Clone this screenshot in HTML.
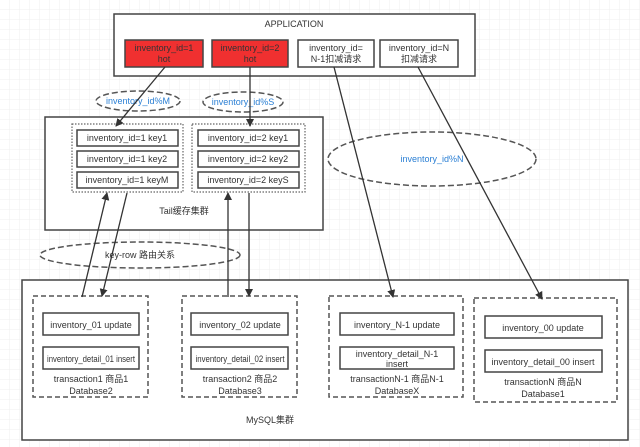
<!DOCTYPE html>
<html><head><meta charset="utf-8"><style>
html,body{margin:0;padding:0;background:#fff}
svg{display:block}
text{font-family:"Liberation Sans","Noto Sans CJK SC",sans-serif;font-size:9px;fill:#333}
</style></head><body>
<svg width="640" height="447" viewBox="0 0 640 447">
<defs>
<pattern id="g" width="10" height="10" patternUnits="userSpaceOnUse"><path d="M10 0V10H0" fill="none" stroke="#efefef" stroke-width="1"/></pattern>
<marker id="a" markerWidth="8" markerHeight="8" refX="7" refY="4" orient="auto" markerUnits="userSpaceOnUse"><path d="M0 0L8 4L0 8z" fill="#333"/></marker>
</defs>
<rect width="640" height="447" fill="url(#g)"/>
<g fill="#fff" stroke="#444" stroke-width="1.5">
<rect x="114" y="14" width="361" height="62"/>
<rect x="45" y="117" width="278" height="113"/>
<rect x="22" y="280" width="606" height="160"/>
</g>
<rect x="125" y="40" width="78" height="27" fill="#f03030" stroke="#444" stroke-width="1.5"/>
<rect x="212" y="40" width="76" height="27" fill="#f03030" stroke="#444" stroke-width="1.5"/>
<rect x="298" y="40" width="76" height="27" fill="#fff" stroke="#444" stroke-width="1.5"/>
<rect x="380" y="40" width="78" height="27" fill="#fff" stroke="#444" stroke-width="1.5"/>
<text x="294" y="27" text-anchor="middle">APPLICATION</text>
<g text-anchor="middle">
<text x="164" y="51">inventory_id=1</text><text x="164" y="62">hot</text>
<text x="250" y="51">inventory_id=2</text><text x="250" y="62">hot</text>
<text x="336" y="51">inventory_id=</text><text x="336" y="62">N-1扣减请求</text>
<text x="419" y="51">inventory_id=N</text><text x="419" y="62">扣减请求</text>
</g>
<g fill="#fff" stroke="#555" stroke-width="1.5" stroke-dasharray="6,3">
<ellipse cx="138" cy="101" rx="42" ry="10"/>
<ellipse cx="243" cy="102" rx="40" ry="10"/>
<ellipse cx="432" cy="159" rx="104" ry="27"/>
<ellipse cx="140" cy="255" rx="100" ry="13"/>
</g>
<text x="138" y="104" text-anchor="middle" style="fill:#2a7fd4">inventory_id%M</text>
<text x="243" y="105" text-anchor="middle" style="fill:#2a7fd4">inventory_id%S</text>
<text x="432" y="162" text-anchor="middle" style="fill:#2a7fd4">inventory_id%N</text>
<text x="140" y="258" text-anchor="middle">key-row 路由关系</text>
<g fill="none" stroke="#666" stroke-width="1.2" stroke-dasharray="1.5,1.5">
<rect x="72" y="124" width="111" height="68"/>
<rect x="192" y="124" width="113" height="68"/>
</g>
<g fill="#fff" stroke="#444" stroke-width="1.5">
<rect x="77" y="130" width="101" height="16"/><rect x="77" y="151" width="101" height="16"/><rect x="77" y="172" width="101" height="16"/>
<rect x="198" y="130" width="101" height="16"/><rect x="198" y="151" width="101" height="16"/><rect x="198" y="172" width="101" height="16"/>
</g>
<g text-anchor="middle">
<text x="127" y="141">inventory_id=1 key1</text><text x="127" y="162">inventory_id=1 key2</text><text x="127" y="183">inventory_id=1 keyM</text>
<text x="248" y="141">inventory_id=2 key1</text><text x="248" y="162">inventory_id=2 key2</text><text x="248" y="183">inventory_id=2 keyS</text>
<text x="184" y="214">Tail缓存集群</text>
<text x="270" y="423">MySQL集群</text>
</g>
<g fill="none" stroke="#555" stroke-width="1.5" stroke-dasharray="5,3">
<rect x="33" y="296" width="115" height="101"/>
<rect x="182" y="296" width="115" height="101"/>
<rect x="329" y="296" width="134" height="101"/>
<rect x="474" y="298" width="143" height="104"/>
</g>
<g fill="#fff" stroke="#444" stroke-width="1.5">
<rect x="43" y="313" width="96" height="22"/><rect x="43" y="347" width="96" height="22"/>
<rect x="191" y="313" width="97" height="22"/><rect x="191" y="347" width="97" height="22"/>
<rect x="340" y="313" width="114" height="22"/><rect x="340" y="347" width="114" height="22"/>
<rect x="485" y="316" width="117" height="22"/><rect x="485" y="350" width="117" height="22"/>
</g>
<g text-anchor="middle">
<text x="91" y="328">inventory_01 update</text><text x="91" y="362" textLength="88" lengthAdjust="spacingAndGlyphs">inventory_detail_01 insert</text>
<text x="91" y="382">transaction1 商品1</text><text x="91" y="394">Database2</text>
<text x="240" y="328">inventory_02 update</text><text x="240" y="362" textLength="89" lengthAdjust="spacingAndGlyphs">inventory_detail_02 insert</text>
<text x="240" y="382">transaction2 商品2</text><text x="240" y="394">Database3</text>
<text x="397" y="328">inventory_N-1 update</text><text x="397" y="357">inventory_detail_N-1</text><text x="397" y="367">insert</text>
<text x="397" y="382">transactionN-1 商品N-1</text><text x="397" y="394">DatabaseX</text>
<text x="543" y="331">inventory_00 update</text><text x="543" y="365" textLength="103" lengthAdjust="spacingAndGlyphs">inventory_detail_00 insert</text>
<text x="543" y="385">transactionN 商品N</text><text x="543" y="397">Database1</text>
</g>
<g stroke="#333" stroke-width="1.3" fill="none" marker-end="url(#a)">
<line x1="165" y1="67" x2="116" y2="126"/>
<line x1="250" y1="67" x2="250" y2="126"/>
<line x1="334" y1="67" x2="393" y2="297"/>
<line x1="418" y1="67" x2="542" y2="299"/>
<line x1="82" y1="297" x2="107" y2="193"/>
<line x1="127" y1="193" x2="102" y2="296"/>
<line x1="228" y1="297" x2="228" y2="193"/>
<line x1="249" y1="193" x2="249" y2="296"/>
</g>
</svg>
</body></html>
